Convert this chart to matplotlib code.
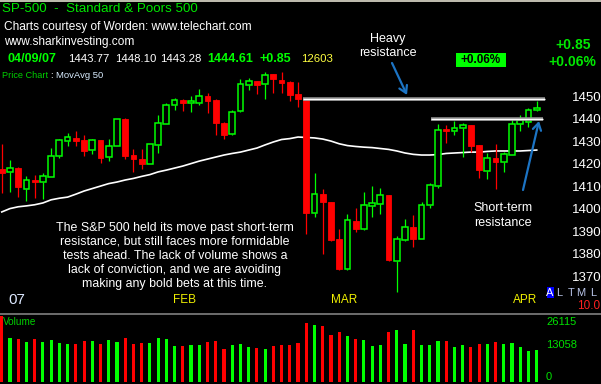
import matplotlib
matplotlib.use("Agg")
import matplotlib.pyplot as plt
from matplotlib.patches import Rectangle
from matplotlib.lines import Line2D
from matplotlib import font_manager
import matplotlib.transforms as mtransforms

# ---------------- data ----------------
bar_index = list(range(-1, 65))
opens = [1417.7, 1416.4, 1418.1, 1408.8, 1412.8, 1411.9, 1414.1, 1423.5, 1430.1, 1431.5,
         1430.6, 1426.1, 1430.6, 1423.0, 1427.9, 1439.9, 1423.9, 1422.1, 1419.9, 1428.3,
         1437.7, 1446.1, 1448.4, 1447.0, 1447.0, 1450.1, 1448.4, 1438.1, 1433.2, 1443.4,
         1455.0, 1456.8, 1455.5, 1459.9, 1457.2, 1456.4, 1451.0, 1449.2, 1398.1, 1406.5,
         1403.0, 1386.6, 1373.2, 1394.6, 1391.0, 1401.2, 1402.1, 1406.1, 1376.8, 1386.1,
         1391.9, 1386.6, 1401.7, 1410.1, 1435.5, 1434.6, 1435.9, 1437.2, 1428.3, 1416.8,
         1422.6, 1420.8, 1423.9, 1437.7, 1438.6, 1443.77]
highs = [1428.8, 1421.7, 1418.5, 1414.6, 1415.0, 1415.9, 1427.0, 1431.0, 1433.7, 1434.6,
         1432.8, 1431.0, 1430.8, 1431.0, 1440.1, 1440.4, 1426.6, 1426.6, 1429.0, 1441.7,
         1447.0, 1449.2, 1448.6, 1450.1, 1453.2, 1451.5, 1448.6, 1438.6, 1443.9, 1457.7,
         1458.1, 1457.0, 1460.8, 1460.1, 1460.8, 1456.8, 1456.4, 1449.4, 1415.9, 1408.8,
         1403.2, 1391.0, 1397.7, 1400.4, 1407.4, 1410.1, 1409.2, 1406.3, 1387.9, 1395.5,
         1397.2, 1403.0, 1411.5, 1437.7, 1437.2, 1439.0, 1438.1, 1437.4, 1428.5, 1424.8,
         1428.8, 1425.2, 1440.4, 1441.7, 1444.8, 1448.10]
lows = [1407.0, 1407.4, 1405.2, 1403.5, 1404.8, 1404.3, 1414.0, 1422.6, 1427.9, 1427.9,
        1423.5, 1424.4, 1420.4, 1421.2, 1427.7, 1422.1, 1416.4, 1417.7, 1419.7, 1424.8,
        1437.5, 1443.9, 1443.4, 1443.0, 1446.1, 1442.6, 1432.8, 1431.0, 1433.0, 1443.2,
        1452.8, 1451.0, 1448.8, 1451.5, 1451.5, 1447.9, 1445.2, 1388.8, 1396.3, 1379.9,
        1385.9, 1373.0, 1373.0, 1389.7, 1390.8, 1396.3, 1397.7, 1376.8, 1363.0, 1385.9,
        1383.0, 1386.4, 1400.4, 1409.2, 1429.2, 1432.8, 1423.0, 1425.2, 1413.7, 1413.2,
        1408.8, 1416.4, 1423.7, 1434.6, 1436.4, 1443.28]
closes = [1415.9, 1418.1, 1409.7, 1412.8, 1411.9, 1414.6, 1423.5, 1430.6, 1431.9, 1430.1,
          1425.7, 1430.6, 1422.6, 1427.9, 1439.9, 1423.5, 1422.1, 1419.9, 1428.8, 1438.1,
          1446.1, 1448.4, 1447.0, 1447.9, 1450.1, 1447.9, 1438.1, 1432.8, 1443.0, 1455.5,
          1456.8, 1455.0, 1459.5, 1457.7, 1455.9, 1450.6, 1448.8, 1398.1, 1406.5, 1403.0,
          1386.1, 1373.2, 1395.0, 1391.0, 1401.7, 1402.6, 1406.1, 1377.2, 1386.6, 1391.9,
          1386.6, 1401.7, 1410.6, 1435.0, 1434.6, 1435.9, 1437.2, 1427.9, 1417.2, 1422.6,
          1420.8, 1424.4, 1437.7, 1439.5, 1443.9, 1444.61]
ma50 = [1398.6, 1400.1, 1400.9, 1401.3, 1401.8, 1402.6, 1404.0, 1404.7, 1405.2, 1406.5,
        1407.9, 1409.0, 1410.1, 1411.2, 1411.9, 1412.8, 1413.5, 1414.4, 1415.2, 1416.4,
        1417.2, 1418.1, 1419.0, 1420.1, 1421.2, 1422.1, 1423.0, 1423.9, 1424.6, 1425.2,
        1426.1, 1427.0, 1428.4, 1429.7, 1430.8, 1431.2, 1431.9, 1431.7, 1431.5, 1431.0,
        1430.1, 1428.9, 1428.1, 1427.7, 1427.4, 1427.2, 1426.8, 1426.4, 1425.7, 1424.8,
        1424.2, 1423.9, 1423.9, 1424.1, 1424.6, 1424.8, 1425.0, 1425.2, 1425.2, 1425.5,
        1425.7, 1425.7, 1425.7, 1425.7, 1425.9, 1426.1]
volume = [29066, 19510, 18937, 17748, 18937, 17748, 18497, 17308, 16735, 16735,
          18056, 18056, 16867, 18497, 17748, 19510, 16867, 17308, 17308, 19510,
          18937, 15987, 15987, 16427, 16427, 17748, 18056, 14533, 16427, 16867,
          15414, 14974, 14533, 15987, 16427, 16427, 17308, 26115, 25235, 24795,
          20831, 22020, 20258, 18937, 18497, 15987, 16427, 22020, 22901, 16867,
          22901, 16427, 16427, 18056, 18056, 15414, 16427, 15414, 16867, 16867,
          17616, 16867, 17308, 15414, 13652, 14093]
price_ticks = [1450, 1440, 1430, 1420, 1410, 1400, 1390, 1380, 1370]
volume_tick_labels = ["26115", "13058", "0"]
month_labels = ["07", "FEB", "MAR", "APR"]
month_label_x = [-0.25, 19.8, 39.0, 61.1]
resistance_levels = [1448.9, 1439.8]
resistance_spans = [(35.6, 65.0), (51.2, 64.8)]

quote_values = ["04/09/07", "1443.77", "1448.10", "1443.28", "1444.61", "+0.85", "12603"]
note_text = ("The S&P 500 held its move past short-term\n"
             "resistance, but still faces more formidable\n"
             "tests ahead. The lack of volume shows a\n"
             "lack of conviction, and we are avoiding\n"
             "making any bold bets at this time.")

# ---------------- style ----------------
def has_font(name):
    try:
        font_manager.findfont(font_manager.FontProperties(family=name), fallback_to_default=False)
        return True
    except Exception:
        return False

FONT = "Liberation Sans" if has_font("Liberation Sans") else "DejaVu Sans"
NARROW = "Liberation Sans Narrow" if has_font("Liberation Sans Narrow") else FONT
plt.rcParams["font.family"] = [FONT, "DejaVu Sans"]

UP = "#00ff00"
DOWN = "#ff0000"
W, H = 601, 384

fig = plt.figure(figsize=(W / 100, H / 100), dpi=100, facecolor="black")

def fpos(x, y):
    return x / W, 1 - y / H

def ftext(x, y, s, **kw):
    fx, fy = fpos(x, y)
    fig.text(fx, fy, s, **kw)

# price axes: pixel x 0..548, y 0..313
ax = fig.add_axes([0, 1 - 313 / H, 548 / W, 313 / H])
ax.set_facecolor("black")
px_per_pt = 2.25
y_top_price = 1450 + 96.3 / px_per_pt
y_bot_price = 1450 - (313 - 96.3) / px_per_pt
ax.set_ylim(y_bot_price, y_top_price)
x0 = (0 - 10) / 8.23
x1 = (548 - 10) / 8.23
ax.set_xlim(x0, x1)
for s in ax.spines.values():
    s.set_visible(False)
ax.set_xticks([])
ax.yaxis.tick_right()
ax.set_yticks(price_ticks)
ax.set_yticklabels([str(t) for t in price_ticks])
ax.tick_params(axis="y", length=0, pad=17, labelcolor="white", labelsize=9.5)
for lab in ax.get_yticklabels():
    lab.set_fontfamily(NARROW)

bw = 0.7
for i, o, h, l, c in zip(bar_index, opens, highs, lows, closes):
    up = c >= o
    col = UP if up else DOWN
    top, bot = max(o, c), min(o, c)
    if up:
        ax.vlines(i, top, h, color=col, lw=0.9, zorder=2)
        ax.vlines(i, l, bot, color=col, lw=0.9, zorder=2)
        ax.add_patch(Rectangle((i - bw / 2, bot), bw, max(top - bot, 0.4),
                               facecolor="black", edgecolor=col, lw=1.1, zorder=3))
    else:
        ax.vlines(i, l, h, color=col, lw=0.9, zorder=2)
        ax.add_patch(Rectangle((i - bw / 2, bot), bw, max(top - bot, 0.6),
                               facecolor=col, edgecolor=col, lw=0.6, zorder=3))

ax.plot(bar_index, ma50, color="white", lw=1.2, zorder=1)

for lvl, (xa, xb) in zip(resistance_levels, resistance_spans):
    ax.plot([xa, xb], [lvl, lvl], color="#909090", lw=2.6, solid_capstyle="butt", zorder=4)
    ax.plot([xa, xb], [lvl, lvl], color="white", lw=1.0, solid_capstyle="butt", zorder=5)

trans = mtransforms.blended_transform_factory(ax.transData, fig.transFigure)
for lab, xm in zip(month_labels, month_label_x):
    col = "#dce8ff" if lab == "07" else "#f0f000"
    fam = NARROW if lab == "07" else FONT
    fs = 11 if lab == "07" else 8.5
    ax.text(xm, 1 - 300 / H, lab, transform=trans, color=col, fontsize=fs,
            family=fam, ha="left", va="center", clip_on=False)

# volume axes
axv = fig.add_axes([0, 0, 548 / W, (H - 313) / H])
axv.set_facecolor("black")
vpp = 440.4
axv.set_ylim(-2 * vpp, 69 * vpp)
axv.set_xlim(x0, x1)
for s in axv.spines.values():
    s.set_visible(False)
axv.set_xticks([])
axv.set_yticks([])
vcols = [UP if c >= o else DOWN for o, c in zip(opens, closes)]
axv.bar(bar_index, volume, width=0.38, color=vcols, linewidth=0)

# separator and top line
fig.add_artist(Line2D([0, 1], [1 - 313.5 / H] * 2, color="#808080", lw=1.2))
fig.add_artist(Line2D([0, 1], [1 - 0.5 / H] * 2, color="#e4e0d0", lw=1.2))

# header texts
ftext(2, 9, "SP-500  -  Standard & Poors 500", color="#00e800", fontsize=9.6, va="center")
ftext(4, 27, "Charts courtesy of Worden: www.telechart.com", color="white", fontsize=8.6, va="center")
ftext(4, 42, "www.sharkinvesting.com", color="white", fontsize=8.6, va="center")
qx = [7, 68, 115, 160, 207, 260, 301]
qcol = [UP, "white", "white", "white", UP, UP, "#ffff40"]
qbold = [True, False, False, False, True, True, False]
qsize = [9, 8.2, 8.2, 8.2, 9, 9, 8.2]
for s, x, c, b, fs in zip(quote_values, qx, qcol, qbold, qsize):
    ftext(x, 59.5, s, color=c, fontsize=fs, fontweight="bold" if b else "normal", va="center")
ftext(2, 75, "Price Chart", color="#00d000", fontsize=6.6, va="center")
ftext(50, 75, ":", color="white", fontsize=6.6, va="center")
ftext(56, 75, "MovAvg 50", color="#d8ecff", fontsize=6.8, va="center")

ftext(388, 46, "Heavy\nresistance", color="white", fontsize=9, ha="center", va="center", linespacing=1.25)
fx, fy = fpos(456, 67)
fig.patches.append(Rectangle((fx, fy), 50 / W, 14 / H, transform=fig.transFigure,
                             facecolor="#00ff00", edgecolor="none"))
ftext(481, 60, "+0.06%", color="black", fontsize=8.5, fontweight="bold", ha="center", va="center")
ftext(573, 45, "+0.85", color="#00e800", fontsize=10, fontweight="bold", ha="center", va="center")
ftext(572, 62, "+0.06%", color="#00e800", fontsize=10, fontweight="bold", ha="center", va="center")

ftext(175, 256, note_text, color="white", fontsize=8.9, ha="center", va="center", linespacing=1.23)
ftext(503, 215.5, "Short-term\nresistance", color="white", fontsize=9, ha="center", va="center", linespacing=1.23)

# arrows
for (xs, ys), (xe, ye) in [((392, 63), (407, 95)), ((523, 190), (539, 121))]:
    fig.add_artist(matplotlib.patches.FancyArrowPatch(
        fpos(xs, ys), fpos(xe, ye), transform=fig.transFigure,
        arrowstyle="->,head_length=5,head_width=3", color="#1c74c4", lw=1.6,
        shrinkA=0, shrinkB=0))

# right side labels
fx, fy = fpos(547, 298)
fig.patches.append(Rectangle((fx, fy), 7 / W, 11 / H, transform=fig.transFigure,
                             facecolor="#0000ff", edgecolor="none"))
for s, x, c in zip(["A", "L", "T", "M", "L"], [550, 559, 571, 581, 593],
                   ["white", "#b8c4e8", "#b8c4e8", "#b8c4e8", "#b8c4e8"]):
    ftext(x, 292.5, s, color=c, fontsize=8, ha="center", va="center")
ftext(600, 306, "10.0", color="#ff2020", fontsize=8.5, ha="right", va="center")
ftext(3, 322, "Volume", color="#00d000", fontsize=7.2, va="center")
for s, y in zip(volume_tick_labels, [322, 345, 377]):
    ftext(546, y, s, color="#00e000", fontsize=8, va="center")

fig.savefig("out.png", dpi=100, facecolor="black")
